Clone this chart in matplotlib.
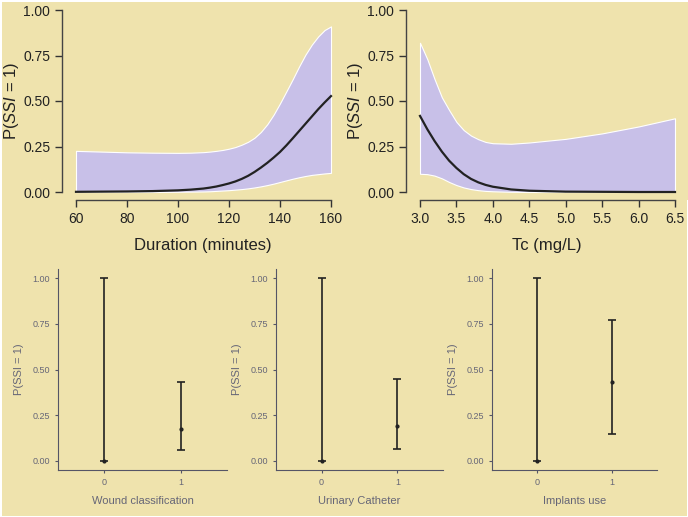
import numpy as np
import matplotlib.pyplot as plt

plt.rcParams['font.family'] = ['Liberation Sans', 'DejaVu Sans']
plt.rcParams['mathtext.fontset'] = 'custom'
plt.rcParams['mathtext.rm'] = 'Liberation Sans'
plt.rcParams['mathtext.it'] = 'Liberation Sans:italic'

# duration effect
dur = [60, 70, 80, 90, 100, 105, 110, 112.5, 115, 117.5, 120, 122.5, 125, 127.5, 130, 132.5, 135,
       137.5, 140, 142.5, 145, 147.5, 150, 152.5, 155, 157.5, 160]
dur_fit = [0.001, 0.002, 0.003, 0.005, 0.009, 0.013, 0.019, 0.024, 0.030, 0.038, 0.047, 0.058, 0.072,
           0.089, 0.110, 0.134, 0.160, 0.189, 0.220, 0.256, 0.295, 0.335, 0.375, 0.415, 0.455, 0.492, 0.527]
dur_hi = [0.226, 0.222, 0.218, 0.216, 0.215, 0.216, 0.219, 0.222, 0.226, 0.231, 0.238, 0.247, 0.260,
          0.276, 0.298, 0.330, 0.372, 0.425, 0.487, 0.553, 0.620, 0.690, 0.755, 0.810, 0.855, 0.890, 0.910]
dur_lo = [0.000, 0.000, 0.000, 0.000, 0.001, 0.002, 0.003, 0.004, 0.006, 0.008, 0.010, 0.013, 0.016,
          0.020, 0.025, 0.031, 0.038, 0.046, 0.055, 0.064, 0.073, 0.081, 0.088, 0.094, 0.098, 0.102, 0.105]

# Tc effect
tc = [3.0, 3.1, 3.2, 3.3, 3.4, 3.5, 3.6, 3.7, 3.8, 3.9, 4.0, 4.25, 4.5, 5.0, 5.5, 6.0, 6.5]
tc_fit = [0.418, 0.345, 0.280, 0.222, 0.172, 0.132, 0.098, 0.072, 0.053, 0.039, 0.029, 0.014, 0.007,
          0.002, 0.001, 0.000, 0.000]
tc_hi = [0.820, 0.730, 0.620, 0.520, 0.450, 0.385, 0.340, 0.310, 0.290, 0.275, 0.268, 0.265, 0.272,
         0.292, 0.322, 0.360, 0.405]
tc_lo = [0.100, 0.098, 0.090, 0.075, 0.055, 0.038, 0.025, 0.016, 0.010, 0.006, 0.004, 0.001, 0.000,
         0.000, 0.000, 0.000, 0.000]

# categorical effects
cats = [0, 1]
cat_names = ["Wound classification", "Urinary Catheter", "Implants use"]
cat_fit = [[0.0, 0.175], [0.0, 0.19], [0.0, 0.43]]
cat_lo = [[0.0, 0.06], [0.0, 0.065], [0.0, 0.145]]
cat_hi = [[1.0, 0.43], [1.0, 0.45], [1.0, 0.77]]

bg = '#efe3ad'
band = '#c8c0e8'
W, H = 688, 517

fig = plt.figure(figsize=(6.88, 5.17), dpi=100)
fig.patch.set_facecolor(bg)
fig.patch.set_edgecolor('white')
fig.patch.set_linewidth(2)

def px(l, t, r, b):
    return [l / W, 1 - b / H, (r - l) / W, (b - t) / H]

yt = [0, 0.25, 0.5, 0.75, 1.0]
ytl = ['0.00', '0.25', '0.50', '0.75', '1.00']
ylab = r'P($\mathit{SSI}$ = $\mathit{1}$)'

top = [(dur, dur_fit, dur_lo, dur_hi, [60, 80, 100, 120, 140, 160], ['60', '80', '100', '120', '140', '160'], 'Duration (minutes)', 62),
       (tc, tc_fit, tc_lo, tc_hi, [3.0, 3.5, 4.0, 4.5, 5.0, 5.5, 6.0, 6.5], ['3.0', '3.5', '4.0', '4.5', '5.0', '5.5', '6.0', '6.5'], 'Tc (mg/L)', 406)]

for x, f, lo, hi, xt, xtl, xl, left in top:
    ax = fig.add_axes(px(left, 2, left + 282, 200))
    ax.set_facecolor(bg)
    ax.fill_between(x, lo, hi, color=band, edgecolor='white', linewidth=0.8)
    ax.plot(x, f, color='#222222', lw=1.6)
    span = xt[-1] - xt[0]
    pad = span * 14 / 255
    ax.set_xlim(xt[0] - pad, xt[0] + span * 282 / 255 - pad)
    ax.set_ylim(-8 / 182, 1 + 8 / 182)
    for s in ['top', 'right']:
        ax.spines[s].set_visible(False)
    ax.spines['left'].set_bounds(0, 1)
    ax.spines['bottom'].set_bounds(xt[0], xt[-1])
    for s in ['left', 'bottom']:
        ax.spines[s].set_color('#444444')
        ax.spines[s].set_linewidth(1)
    ax.set_xticks(xt)
    ax.set_xticklabels(xtl)
    ax.set_yticks(yt)
    ax.set_yticklabels(ytl)
    ax.tick_params(colors='#333333', labelsize=10, length=5, width=1, labelcolor='#222222')
    ax.set_xlabel(xl, fontsize=12, color='#222222', labelpad=9)
    ax.set_ylabel(ylab, fontsize=12, color='#222222')
    ax.yaxis.set_label_coords(-41 / 282, 0.5)

bottom = [(58, 227), (276, 443), (492, 657)]
for i, (l, r) in enumerate(bottom):
    ax = fig.add_axes(px(l, 269, r, 470))
    ax.set_facecolor(bg)
    f = np.array(cat_fit[i])
    lo = np.array(cat_lo[i])
    hi = np.array(cat_hi[i])
    ax.errorbar(cats, f, yerr=[f - lo, hi - f], fmt='o', ms=2, color='#222222',
                ecolor='#222222', elinewidth=1.2, capsize=3, capthick=1.2)
    ax.set_xlim(-0.6, 1.6)
    ax.set_ylim(-0.05, 1.05)
    for s in ['top', 'right']:
        ax.spines[s].set_visible(False)
    for s in ['left', 'bottom']:
        ax.spines[s].set_color('#555566')
        ax.spines[s].set_linewidth(0.8)
    ax.set_xticks(cats)
    ax.set_xticklabels(['0', '1'])
    ax.set_yticks(yt)
    ax.set_yticklabels(ytl)
    ax.tick_params(colors='#555566', labelsize=6.5, length=2.5, width=0.8, labelcolor='#666677')
    ax.set_xlabel(cat_names[i], fontsize=8, color='#666677', labelpad=6)
    ax.set_ylabel('P(SSI = 1)', fontsize=8, color='#666677', labelpad=6)

fig.savefig('out.png', dpi=100, facecolor=fig.get_facecolor(), edgecolor=fig.get_edgecolor())
